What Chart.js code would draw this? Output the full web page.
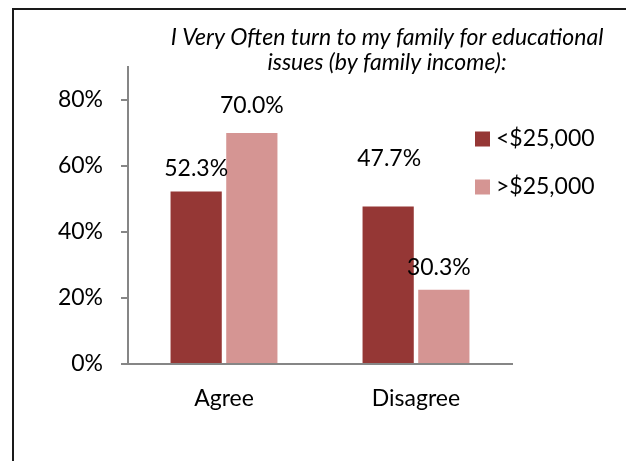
<!DOCTYPE html>
<html>
<head>
<meta charset="utf-8">
<script src="https://cdn.jsdelivr.net/npm/chart.js@4"></script>
<style>
html, body { margin: 0; padding: 0; background: #fff; overflow: hidden; }
#frame { position: absolute; left: 12px; top: 8px; width: 700px; height: 600px; border: 2px solid #1a1a1a; }
#wrap { position: absolute; left: 0; top: 0; width: 626px; height: 461px; }
</style>
</head>
<body>
<div id="frame"></div>
<div id="wrap"><canvas id="chart"></canvas></div>
<script>
// Данные графика
const categories = ['Agree', 'Disagree'];
const seriesNames = ['<$25,000', '>$25,000'];
// высоты столбцов, как они нарисованы на картинке
const lowIncome = [52.3, 47.7];
const highIncome = [70.0, 22.5];
// подписи над столбцами, как они напечатаны
const lowIncomeLabels = ['52.3%', '47.7%'];
const highIncomeLabels = ['70.0%', '30.3%'];
const yTicks = [0, 20, 40, 60, 80];
const titleLines = ['I Very Often turn to my family for educational', 'issues (by family income):'];
const seriesColors = ['#953735', '#D59593'];

// Сдвиги подписей относительно верха столбца (в оригинале расставлены вручную)
const labelShift = [
    [{ dx: 0, dy: -23 }, { dx: 1, dy: -48 }],
    [{ dx: 0, dy: -27 }, { dx: -5, dy: -22 }]
];

const FONT = 'Lato, "Open Sans", sans-serif';

// Заголовок курсивом (центр смещён вправо, как в оригинале)
const titlePlugin = {
    id: 'italicTitle',
    afterDraw(chart) {
        const ctx = chart.ctx;
        ctx.save();
        ctx.font = 'italic 23px ' + FONT;
        ctx.fillStyle = '#000';
        ctx.textAlign = 'center';
        ctx.textBaseline = 'middle';
        titleLines.forEach((line, i) => ctx.fillText(line, 387, 38 + i * 25));
        ctx.restore();
    }
};

// Легенда справа, частично над областью графика
const legendPlugin = {
    id: 'sideLegend',
    afterDraw(chart) {
        const ctx = chart.ctx;
        ctx.save();
        ctx.font = '23px ' + FONT;
        ctx.textAlign = 'left';
        ctx.textBaseline = 'middle';
        chart.data.datasets.forEach((ds, i) => {
            const cy = 139 + i * 48;
            ctx.fillStyle = ds.backgroundColor;
            ctx.fillRect(475, cy - 7.5, 15, 15);
            ctx.fillStyle = '#000';
            ctx.fillText(ds.label, 496, cy);
        });
        ctx.restore();
    }
};

// Подписи значений над столбцами
const valueLabels = {
    id: 'valueLabels',
    afterDatasetsDraw(chart) {
        const ctx = chart.ctx;
        ctx.save();
        ctx.font = '23px ' + FONT;
        ctx.fillStyle = '#000';
        ctx.textAlign = 'center';
        ctx.textBaseline = 'middle';
        chart.data.datasets.forEach((ds, i) => {
            chart.getDatasetMeta(i).data.forEach((bar, j) => {
                const s = labelShift[i][j];
                ctx.fillText(ds.valueLabels[j], bar.x + s.dx, bar.y + s.dy);
            });
        });
        ctx.restore();
    }
};

new Chart(document.getElementById('chart'), {
    type: 'bar',
    data: {
        labels: categories,
        datasets: [
            { label: seriesNames[0], data: lowIncome, valueLabels: lowIncomeLabels, backgroundColor: seriesColors[0] },
            { label: seriesNames[1], data: highIncome, valueLabels: highIncomeLabels, backgroundColor: seriesColors[1] }
        ]
    },
    options: {
        responsive: true,
        maintainAspectRatio: false,
        animation: false,
        devicePixelRatio: 1,
        categoryPercentage: 0.58,
        barPercentage: 0.92,
        layout: { padding: { left: 0, right: 114, top: 67, bottom: 37 } },
        plugins: {
            legend: { display: false },
            title: { display: false },
            tooltip: { enabled: false }
        },
        scales: {
            x: {
                grid: { display: true, drawOnChartArea: false, drawTicks: false },
                border: { color: '#868686', width: 2 },
                ticks: { color: '#000', font: { family: FONT, size: 23 }, padding: 21 },
                afterFit(scale) { scale.height = 60; }
            },
            y: {
                min: 0,
                max: 90,
                afterBuildTicks(scale) { scale.ticks = yTicks.map(v => ({ value: v })); },
                grid: { drawOnChartArea: false, drawTicks: true, tickLength: 7, color: '#868686', lineWidth: 2 },
                border: { color: '#868686', width: 2 },
                ticks: {
                    color: '#000',
                    font: { family: FONT, size: 23 },
                    padding: 18,
                    callback: v => v + '%'
                },
                afterFit(scale) { scale.width = 128; }
            }
        }
    },
    plugins: [titlePlugin, legendPlugin, valueLabels]
});
</script>
</body>
</html>
